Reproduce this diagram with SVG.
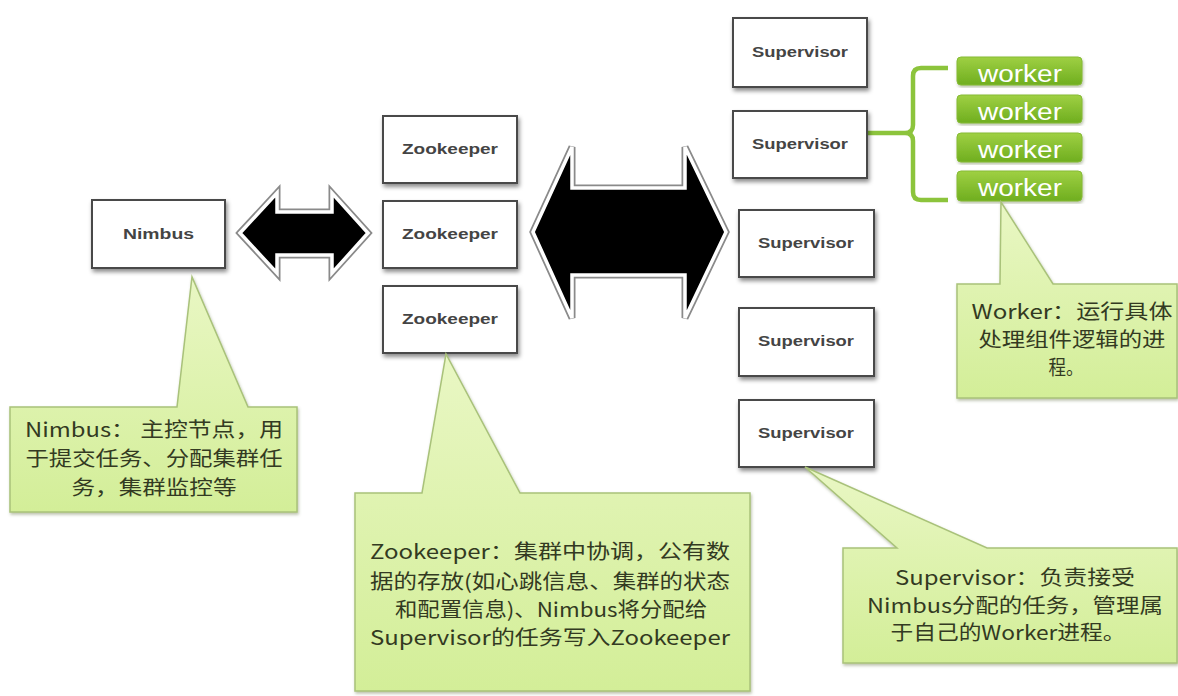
<svg xmlns="http://www.w3.org/2000/svg" width="1178" height="696" viewBox="0 0 1178 696">
<defs>
<filter id="sh" x="-10%" y="-10%" width="125%" height="135%"><feDropShadow dx="1.5" dy="3" stdDeviation="2" flood-color="#000" flood-opacity="0.45"/></filter>
<filter id="csh" x="-5%" y="-5%" width="110%" height="115%"><feDropShadow dx="1" dy="2" stdDeviation="1.5" flood-color="#6b7a4a" flood-opacity="0.45"/></filter>
<linearGradient id="cg" x1="0" y1="0" x2="0" y2="1"><stop offset="0" stop-color="#e9f7c4"/><stop offset="1" stop-color="#d3ee98"/></linearGradient>
<linearGradient id="wg" x1="0" y1="0" x2="0" y2="1"><stop offset="0" stop-color="#9fd043"/><stop offset="1" stop-color="#6fae1f"/></linearGradient>
<style>
.box{fill:#fff;stroke:#4a4a4a;stroke-width:2;filter:url(#sh)}
.lbl{font-family:"Liberation Sans",Arial,sans-serif;font-weight:bold;font-size:14px;fill:#444;text-anchor:middle}
.call{fill:url(#cg);stroke:#a9c27a;stroke-width:1.5;filter:url(#csh)}
.ct{font-family:"Noto Sans CJK SC","Noto Sans",sans-serif;font-size:20px;fill:#333a22;text-anchor:middle}
.wk{fill:url(#wg);stroke:#86bb34;stroke-width:1;filter:url(#csh)}
.wt{font-family:"Liberation Sans",Arial,sans-serif;font-size:23px;fill:#fff;text-anchor:middle}
.aout{fill:none;stroke:#8a8a8a;stroke-width:7;stroke-linejoin:miter}
.ain{fill:#000;stroke:#fff;stroke-width:3.5;stroke-linejoin:miter}
</style>
</defs>
<rect width="1178" height="696" fill="#fff"/>

<g id="connectors">
<path class="aout" d="M240,233 L277,193 L277,212 L332,212 L332,193 L368,233 L332,273 L332,255 L277,255 L277,273 Z"/>
<path class="ain" d="M240,233 L277,193 L277,212 L332,212 L332,193 L368,233 L332,273 L332,255 L277,255 L277,273 Z"/>
<path class="aout" d="M533,232 L572,147 L572,188 L685,188 L685,147 L726,232 L685,318 L685,275 L572,275 L572,318 Z"/>
<path class="ain" d="M533,232 L572,147 L572,188 L685,188 L685,147 L726,232 L685,318 L685,275 L572,275 L572,318 Z"/>
<path d="M948,68 L921,68 Q913,68 913,76 L913,125 Q913,133 905,133 L868,133 M905,133 Q913,133 913,141 L913,192 Q913,200 921,200 L948,200" fill="none" stroke="#8cc43c" stroke-width="4.5"/>
</g>

<g id="nimbus"><rect class="box" x="92" y="200" width="133" height="68"/><text class="lbl" x="158.5" y="239" textLength="71" lengthAdjust="spacingAndGlyphs">Nimbus</text></g>

<g id="zk1"><rect class="box" x="383" y="116" width="134" height="67"/><text class="lbl" x="450" y="154" textLength="96" lengthAdjust="spacingAndGlyphs">Zookeeper</text></g>
<g id="zk2"><rect class="box" x="383" y="201" width="134" height="67"/><text class="lbl" x="450" y="239" textLength="96" lengthAdjust="spacingAndGlyphs">Zookeeper</text></g>
<g id="zk3"><rect class="box" x="383" y="286" width="134" height="67"/><text class="lbl" x="450" y="324" textLength="96" lengthAdjust="spacingAndGlyphs">Zookeeper</text></g>

<g id="sup1"><rect class="box" x="733" y="18" width="134" height="69"/><text class="lbl" x="800" y="57" textLength="96" lengthAdjust="spacingAndGlyphs">Supervisor</text></g>
<g id="sup2"><rect class="box" x="733" y="111" width="134" height="67"/><text class="lbl" x="800" y="149" textLength="96" lengthAdjust="spacingAndGlyphs">Supervisor</text></g>
<g id="sup3"><rect class="box" x="739" y="210" width="135" height="67"/><text class="lbl" x="806" y="248" textLength="96" lengthAdjust="spacingAndGlyphs">Supervisor</text></g>
<g id="sup4"><rect class="box" x="739" y="308" width="135" height="68"/><text class="lbl" x="806" y="346" textLength="96" lengthAdjust="spacingAndGlyphs">Supervisor</text></g>
<g id="sup5"><rect class="box" x="739" y="400" width="135" height="67"/><text class="lbl" x="806" y="438" textLength="96" lengthAdjust="spacingAndGlyphs">Supervisor</text></g>

<g id="worker1"><rect class="wk" x="957" y="57" width="125" height="28" rx="4"/><text class="wt" x="1020" y="82" textLength="84" lengthAdjust="spacingAndGlyphs">worker</text></g>
<g id="worker2"><rect class="wk" x="957" y="95" width="125" height="28" rx="4"/><text class="wt" x="1020" y="120" textLength="84" lengthAdjust="spacingAndGlyphs">worker</text></g>
<g id="worker3"><rect class="wk" x="957" y="133" width="125" height="29" rx="4"/><text class="wt" x="1020" y="158" textLength="84" lengthAdjust="spacingAndGlyphs">worker</text></g>
<g id="worker4"><rect class="wk" x="957" y="171" width="125" height="30" rx="4"/><text class="wt" x="1020" y="196" textLength="84" lengthAdjust="spacingAndGlyphs">worker</text></g>

<g id="note-nimbus">
<path class="call" d="M10,407 L177,407 L192,277 L248,407 L297,407 L297,512 L10,512 Z"/>
<text class="ct" x="154" y="437" textLength="258" lengthAdjust="spacingAndGlyphs">Nimbus： 主控节点，用</text>
<text class="ct" x="154" y="466" textLength="257" lengthAdjust="spacingAndGlyphs">于提交任务、分配集群任</text>
<text class="ct" x="154" y="495" textLength="165" lengthAdjust="spacingAndGlyphs">务，集群监控等</text>
</g>

<g id="note-zookeeper">
<path class="call" d="M355,493 L422,493 L446,354 L520,493 L750,493 L750,691 L355,691 Z"/>
<text class="ct" x="550" y="559" textLength="360" lengthAdjust="spacingAndGlyphs">Zookeeper：集群中协调，公有数</text>
<text class="ct" x="550" y="589" textLength="360" lengthAdjust="spacingAndGlyphs">据的存放(如心跳信息、集群的状态</text>
<text class="ct" x="551" y="617" textLength="312" lengthAdjust="spacingAndGlyphs">和配置信息)、Nimbus将分配给</text>
<text class="ct" x="550" y="645" textLength="360" lengthAdjust="spacingAndGlyphs">Supervisor的任务写入Zookeeper</text>
</g>

<g id="note-supervisor">
<path class="call" d="M843,548 L897,548 L805,467 L987,548 L1177,548 L1177,663 L843,663 Z"/>
<text class="ct" x="1015" y="585" textLength="240" lengthAdjust="spacingAndGlyphs">Supervisor：负责接受</text>
<text class="ct" x="1015" y="613" textLength="296" lengthAdjust="spacingAndGlyphs">Nimbus分配的任务，管理属</text>
<text class="ct" x="1008" y="640" textLength="235" lengthAdjust="spacingAndGlyphs">于自己的Worker进程。</text>
</g>

<g id="note-worker">
<path class="call" d="M957,284 L1000,284 L1001,202 L1053,284 L1177,284 L1177,398 L957,398 Z"/>
<text class="ct" x="1072" y="319" textLength="201" lengthAdjust="spacingAndGlyphs">Worker：运行具体</text>
<text class="ct" x="1072" y="347" textLength="187" lengthAdjust="spacingAndGlyphs">处理组件逻辑的进</text>
<text class="ct" x="1066" y="375" textLength="35" lengthAdjust="spacingAndGlyphs">程。</text>
</g>
</svg>
